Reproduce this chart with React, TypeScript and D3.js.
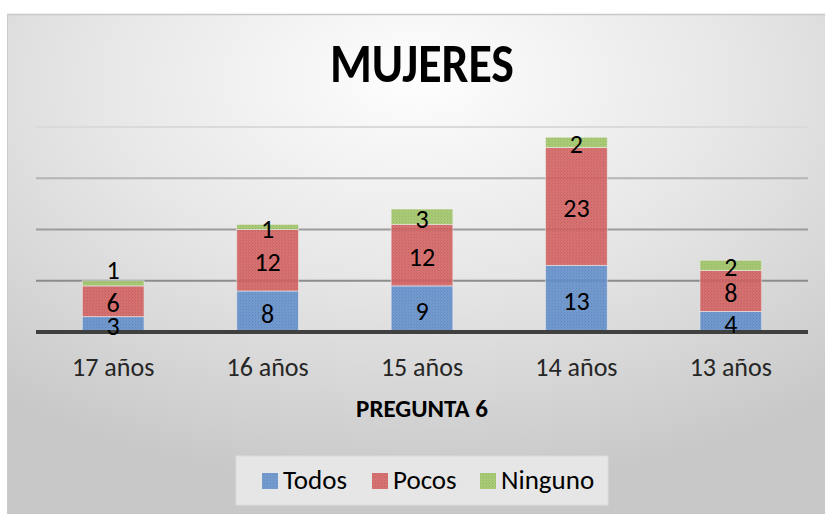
import React from "react";
import * as d3 from "d3";

const categories = ["17 años", "16 años", "15 años", "14 años", "13 años"];
const todos = [3, 8, 9, 13, 4];
const pocos = [6, 12, 12, 23, 8];
const ninguno = [1, 1, 3, 2, 2];
const seriesNames = ["Todos", "Pocos", "Ninguno"];
const yTicks = [0, 10, 20, 30, 40];

const W = 825;
const H = 514;
const FONT = "Carlito, Calibri, 'Open Sans', 'Noto Sans', sans-serif";

const colors = ["#6490cb", "#d56262", "#a0c567"];
const dotColors = ["#4f7dbd", "#c24f4f", "#8db353"];

export default function App() {
  const x = d3.scaleBand<string>().domain(categories).range([36, 808]).paddingInner(0.6).paddingOuter(0.3);
  const y = d3.scaleLinear().domain([0, 40]).range([332, 127]);
  const rows = categories.map((c, i) => ({ cat: c, Todos: todos[i], Pocos: pocos[i], Ninguno: ninguno[i] }));
  const stack = d3.stack<any>().keys(seriesNames)(rows);

  const gridColors = ["#3f3f3f", "#8c8c8c", "#9c9c9c", "#b4b4b4", "#dadada"];

  // label centers with simple overlap avoidance (Excel-like)
  const labels: { x: number; cy: number; v: number; key: string }[] = [];
  categories.forEach((c, i) => {
    let prev: number | null = null;
    stack.forEach((s, si) => {
      const d = s[i];
      let cy = (y(d[0]) + y(d[1])) / 2 + 2.5;
      if (prev !== null && prev - cy < 18) {
        cy = y(d[1]) - 10;
      }
      prev = cy;
      labels.push({ x: x(c)! + x.bandwidth() / 2, cy, v: d[1] - d[0], key: si + "-" + i });
    });
  });

  return (
    <svg width={W} height={H} style={{ position: "absolute", left: 0, top: 0 }}>
      <defs>
        <radialGradient id="bg" cx="0.5" cy="0.15" r="0.8" fx="0.5" fy="0.12">
          <stop offset="0" stopColor="#fefefe" />
          <stop offset="0.5" stopColor="#e6e6e6" />
          <stop offset="1" stopColor="#c8c8c8" />
        </radialGradient>
        {colors.map((c, i) => (
          <pattern key={i} id={"pat" + i} width="3" height="3" patternUnits="userSpaceOnUse">
            <rect width="3" height="3" fill={c} />
            <rect width="1" height="1" fill={dotColors[i]} />
            <rect x="2" y="1.5" width="1" height="1" fill={dotColors[i]} opacity="0.6" />
          </pattern>
        ))}
      </defs>
      <rect x={0} y={0} width={W} height={H} fill="#ffffff" />
      <rect x={7} y={14} width={W - 7} height={H - 14} fill="url(#bg)" />
      <line x1={7} x2={W} y1={14.5} y2={14.5} stroke="#c8c8c8" strokeWidth={1.5} />
      <line x1={7.5} x2={7.5} y1={14} y2={H} stroke="#cccccc" strokeWidth={1} />

      <text x={422} y={82} textAnchor="middle" fontFamily={FONT} fontWeight="bold" fontSize={54} fill="#000" textLength={184} lengthAdjust="spacingAndGlyphs">
        MUJERES
      </text>

      {yTicks.slice(1).map((t, i) => (
        <line key={t} x1={36} x2={808} y1={y(t)} y2={y(t)} stroke={gridColors[i + 1]} strokeWidth={2} />
      ))}

      {stack.map((s, si) =>
        s.map((d, i) => (
          <rect
            key={si + "-" + i}
            x={x(categories[i])!}
            y={y(d[1])}
            width={x.bandwidth()}
            height={y(d[0]) - y(d[1])}
            fill={`url(#pat${si})`}
            opacity={0.88}
            stroke="#f0f0f0"
            strokeOpacity={0.6}
            strokeWidth={1}
          />
        ))
      )}

      <line x1={36} x2={808} y1={y(0)} y2={y(0)} stroke="#404040" strokeWidth={4} />

      {labels.map((l) => (
        <text key={"l" + l.key} x={l.x} y={l.cy + 8.5} textAnchor="middle" fontFamily={FONT} fontSize={26} fill="#000">
          {l.v}
        </text>
      ))}

      {categories.map((c) => (
        <text key={c} x={x(c)! + x.bandwidth() / 2} y={376} textAnchor="middle" fontFamily={FONT} fontSize={26} fill="#262626">
          {c}
        </text>
      ))}

      <text x={422} y={417} textAnchor="middle" fontFamily={FONT} fontWeight="bold" fontSize={25} fill="#000">
        PREGUNTA 6
      </text>

      <rect x={236} y={456} width={372} height={49} fill="#e6e6e6" stroke="#dcdcdc" strokeWidth={1} />
      {seriesNames.map((n, i) => {
        const sx = [262, 372, 480][i];
        return (
          <g key={n}>
            <rect x={sx} y={473} width={16} height={16} fill={`url(#pat${i})`} opacity={0.88} />
            <text x={sx + 21} y={489} fontFamily={FONT} fontSize={27} fill="#000">
              {n}
            </text>
          </g>
        );
      })}
    </svg>
  );
}
